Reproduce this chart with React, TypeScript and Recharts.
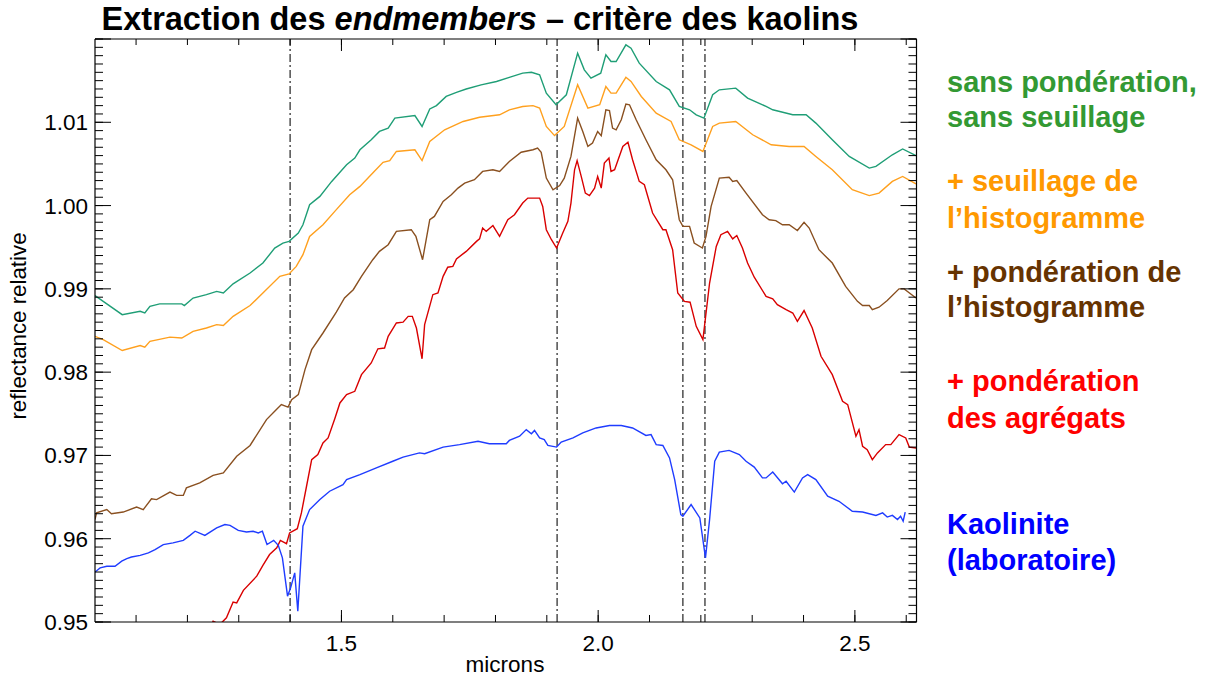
import React from 'react';
import { LineChart, Line, XAxis, YAxis, ReferenceLine } from 'recharts';

// [microns, reflectance relative]
const sansPonderation: [number, number][] = [
  [1.020, 0.9892], [1.073, 0.9869], [1.108, 0.9873], [1.117, 0.9871], [1.127, 0.9879], [1.146, 0.9882],
  [1.189, 0.9882], [1.194, 0.9880], [1.211, 0.9889], [1.237, 0.9893], [1.257, 0.9897], [1.270, 0.9895],
  [1.289, 0.9906], [1.322, 0.9919], [1.347, 0.9931], [1.370, 0.9949], [1.386, 0.9955], [1.398, 0.9957],
  [1.416, 0.9967], [1.425, 0.9977], [1.438, 1.0001], [1.458, 1.0011], [1.481, 1.0029], [1.510, 1.0049],
  [1.526, 1.0057], [1.536, 1.0067], [1.558, 1.0079], [1.574, 1.0089], [1.591, 1.0093], [1.604, 1.0105],
  [1.643, 1.0108], [1.657, 1.0095], [1.672, 1.0116], [1.685, 1.0120], [1.704, 1.0131], [1.724, 1.0136],
  [1.743, 1.0140], [1.772, 1.0145], [1.802, 1.0149], [1.827, 1.0154], [1.853, 1.0159], [1.870, 1.0160],
  [1.886, 1.0157], [1.899, 1.0135], [1.918, 1.0121], [1.938, 1.0133], [1.960, 1.0183], [1.973, 1.0163],
  [1.986, 1.0153], [2.005, 1.0159], [2.015, 1.0181], [2.025, 1.0173], [2.035, 1.0173], [2.054, 1.0193],
  [2.064, 1.0189], [2.080, 1.0171], [2.113, 1.0149], [2.139, 1.0139], [2.158, 1.0119], [2.178, 1.0115],
  [2.191, 1.0109], [2.206, 1.0105], [2.223, 1.0133], [2.236, 1.0139], [2.268, 1.0141], [2.291, 1.0129],
  [2.327, 1.0119], [2.340, 1.0115], [2.379, 1.0109], [2.405, 1.0109], [2.424, 1.0099], [2.456, 1.0079],
  [2.489, 1.0059], [2.528, 1.0045], [2.541, 1.0047], [2.573, 1.0061], [2.593, 1.0068], [2.619, 1.0060],
];

const seuillage: [number, number][] = [
  [1.020, 0.9843], [1.036, 0.9839], [1.073, 0.9826], [1.108, 0.9832], [1.117, 0.9830], [1.127, 0.9837],
  [1.166, 0.9842], [1.189, 0.9841], [1.211, 0.9849], [1.237, 0.9853], [1.257, 0.9857], [1.270, 0.9856],
  [1.289, 0.9867], [1.322, 0.9880], [1.347, 0.9895], [1.380, 0.9915], [1.398, 0.9918], [1.412, 0.9927],
  [1.425, 0.9941], [1.438, 0.9963], [1.464, 0.9977], [1.487, 0.9993], [1.516, 1.0013], [1.536, 1.0023],
  [1.561, 1.0039], [1.581, 1.0052], [1.594, 1.0054], [1.607, 1.0065], [1.643, 1.0067], [1.657, 1.0054],
  [1.672, 1.0077], [1.701, 1.0091], [1.737, 1.0101], [1.769, 1.0106], [1.808, 1.0109], [1.827, 1.0115],
  [1.853, 1.0119], [1.873, 1.0120], [1.886, 1.0117], [1.899, 1.0095], [1.915, 1.0084], [1.934, 1.0095],
  [1.960, 1.0145], [1.980, 1.0117], [2.003, 1.0121], [2.015, 1.0143], [2.025, 1.0135], [2.035, 1.0135],
  [2.054, 1.0154], [2.064, 1.0149], [2.084, 1.0131], [2.113, 1.0111], [2.142, 1.0101], [2.158, 1.0079],
  [2.181, 1.0073], [2.204, 1.0065], [2.223, 1.0095], [2.236, 1.0099], [2.268, 1.0101], [2.301, 1.0085],
  [2.337, 1.0073], [2.372, 1.0071], [2.401, 1.0071], [2.424, 1.0059], [2.456, 1.0043], [2.495, 1.0019],
  [2.528, 1.0012], [2.547, 1.0015], [2.573, 1.0029], [2.593, 1.0035], [2.619, 1.0026],
];

const ponderationHisto: [number, number][] = [
  [1.020, 0.9623], [1.023, 0.9631], [1.043, 0.9635], [1.052, 0.9630], [1.075, 0.9632], [1.101, 0.9638],
  [1.114, 0.9635], [1.130, 0.9648], [1.140, 0.9647], [1.166, 0.9656], [1.179, 0.9652], [1.192, 0.9652],
  [1.198, 0.9661], [1.224, 0.9667], [1.250, 0.9676], [1.270, 0.9679], [1.296, 0.9699], [1.322, 0.9712],
  [1.354, 0.9743], [1.370, 0.9753], [1.383, 0.9761], [1.396, 0.9758], [1.403, 0.9767], [1.416, 0.9773],
  [1.429, 0.9803], [1.442, 0.9827], [1.464, 0.9847], [1.490, 0.9872], [1.506, 0.9889], [1.523, 0.9899],
  [1.539, 0.9915], [1.561, 0.9935], [1.574, 0.9945], [1.591, 0.9953], [1.607, 0.9969], [1.636, 0.9971],
  [1.645, 0.9963], [1.658, 0.9935], [1.672, 0.9983], [1.681, 0.9987], [1.698, 1.0005], [1.714, 1.0013],
  [1.727, 1.0021], [1.740, 1.0027], [1.759, 1.0031], [1.775, 1.0041], [1.795, 1.0043], [1.808, 1.0041],
  [1.827, 1.0053], [1.850, 1.0064], [1.873, 1.0067], [1.882, 1.0069], [1.889, 1.0064], [1.899, 1.0033],
  [1.912, 1.0019], [1.925, 1.0024], [1.934, 1.0033], [1.947, 1.0059], [1.960, 1.0105], [1.970, 1.0089],
  [1.980, 1.0071], [1.989, 1.0075], [1.999, 1.0089], [2.006, 1.0084], [2.015, 1.0115], [2.022, 1.0114],
  [2.028, 1.0093], [2.035, 1.0091], [2.045, 1.0103], [2.054, 1.0122], [2.061, 1.0121], [2.074, 1.0103],
  [2.093, 1.0079], [2.113, 1.0055], [2.132, 1.0043], [2.145, 1.0031], [2.158, 0.9983], [2.165, 0.9975],
  [2.178, 0.9975], [2.187, 0.9955], [2.203, 0.9949], [2.210, 0.9963], [2.220, 0.9999], [2.236, 1.0033],
  [2.255, 1.0034], [2.262, 1.0029], [2.270, 1.0030], [2.288, 1.0015], [2.320, 0.9989], [2.333, 0.9983],
  [2.346, 0.9982], [2.359, 0.9977], [2.372, 0.9977], [2.388, 0.9970], [2.401, 0.9980], [2.411, 0.9973],
  [2.430, 0.9947], [2.456, 0.9931], [2.482, 0.9903], [2.505, 0.9885], [2.515, 0.9880], [2.528, 0.9880],
  [2.534, 0.9875], [2.547, 0.9878], [2.563, 0.9886], [2.586, 0.9900], [2.596, 0.9900], [2.619, 0.9889],
];

const ponderationAgregats: [number, number][] = [
  [1.245, 0.9494], [1.250, 0.9501], [1.263, 0.9497], [1.276, 0.9505], [1.289, 0.9524], [1.296, 0.9523],
  [1.309, 0.9538], [1.335, 0.9555], [1.347, 0.9568], [1.360, 0.9581], [1.374, 0.9589], [1.381, 0.9598],
  [1.393, 0.9594], [1.399, 0.9607], [1.414, 0.9612], [1.422, 0.9631], [1.432, 0.9663], [1.442, 0.9695],
  [1.454, 0.9701], [1.464, 0.9715], [1.474, 0.9721], [1.487, 0.9744], [1.497, 0.9763], [1.510, 0.9773],
  [1.526, 0.9777], [1.539, 0.9797], [1.558, 0.9811], [1.571, 0.9828], [1.584, 0.9829], [1.591, 0.9843],
  [1.607, 0.9859], [1.620, 0.9860], [1.630, 0.9867], [1.638, 0.9867], [1.646, 0.9853], [1.657, 0.9816],
  [1.662, 0.9857], [1.678, 0.9893], [1.688, 0.9895], [1.698, 0.9915], [1.707, 0.9926], [1.717, 0.9927],
  [1.724, 0.9936], [1.743, 0.9945], [1.763, 0.9957], [1.769, 0.9960], [1.775, 0.9973], [1.782, 0.9969],
  [1.795, 0.9976], [1.808, 0.9963], [1.824, 0.9983], [1.837, 0.9989], [1.853, 1.0003], [1.863, 1.0009],
  [1.886, 1.0009], [1.892, 0.9999], [1.899, 0.9971], [1.909, 0.9959], [1.919, 0.9949], [1.931, 0.9967],
  [1.941, 0.9981], [1.947, 1.0003], [1.954, 1.0043], [1.959, 1.0054], [1.967, 1.0035], [1.975, 1.0015],
  [1.983, 1.0012], [1.993, 1.0021], [1.999, 1.0035], [2.006, 1.0021], [2.012, 1.0051], [2.021, 1.0057],
  [2.025, 1.0041], [2.032, 1.0043], [2.048, 1.0071], [2.058, 1.0076], [2.067, 1.0055], [2.080, 1.0029],
  [2.090, 1.0025], [2.106, 0.9991], [2.126, 0.9971], [2.132, 0.9971], [2.145, 0.9947], [2.155, 0.9895],
  [2.168, 0.9885], [2.179, 0.9884], [2.191, 0.9855], [2.204, 0.9839], [2.217, 0.9907], [2.230, 0.9951],
  [2.239, 0.9965], [2.252, 0.9969], [2.262, 0.9960], [2.270, 0.9964], [2.281, 0.9949], [2.291, 0.9931],
  [2.304, 0.9914], [2.327, 0.9891], [2.340, 0.9888], [2.349, 0.9881], [2.366, 0.9875], [2.379, 0.9871],
  [2.388, 0.9861], [2.401, 0.9874], [2.417, 0.9853], [2.434, 0.9819], [2.456, 0.9797], [2.476, 0.9765],
  [2.486, 0.9761], [2.502, 0.9723], [2.508, 0.9731], [2.515, 0.9711], [2.524, 0.9707], [2.534, 0.9695],
  [2.544, 0.9703], [2.560, 0.9713], [2.570, 0.9713], [2.586, 0.9725], [2.599, 0.9721], [2.606, 0.9710],
  [2.619, 0.9709],
];

const kaolinite: [number, number][] = [
  [1.020, 0.9560], [1.030, 0.9565], [1.043, 0.9567], [1.059, 0.9567], [1.072, 0.9573], [1.082, 0.9576],
  [1.091, 0.9578], [1.108, 0.9580], [1.124, 0.9583], [1.137, 0.9587], [1.153, 0.9593], [1.172, 0.9595],
  [1.192, 0.9598], [1.205, 0.9604], [1.215, 0.9609], [1.234, 0.9604], [1.257, 0.9613], [1.273, 0.9617],
  [1.283, 0.9616], [1.299, 0.9610], [1.315, 0.9608], [1.328, 0.9609], [1.338, 0.9607], [1.346, 0.9609],
  [1.355, 0.9593], [1.368, 0.9598], [1.377, 0.9592], [1.385, 0.9577], [1.395, 0.9531], [1.401, 0.9541],
  [1.409, 0.9559], [1.415, 0.9513], [1.425, 0.9615], [1.438, 0.9635], [1.458, 0.9647], [1.477, 0.9657],
  [1.503, 0.9665], [1.510, 0.9671], [1.536, 0.9677], [1.568, 0.9685], [1.600, 0.9693], [1.620, 0.9698],
  [1.652, 0.9703], [1.662, 0.9702], [1.698, 0.9710], [1.730, 0.9713], [1.766, 0.9717], [1.788, 0.9714],
  [1.821, 0.9714], [1.827, 0.9718], [1.847, 0.9723], [1.860, 0.9731], [1.870, 0.9726], [1.876, 0.9730],
  [1.886, 0.9721], [1.895, 0.9719], [1.902, 0.9712], [1.919, 0.9710], [1.928, 0.9716], [1.951, 0.9721],
  [1.970, 0.9727], [1.996, 0.9733], [2.022, 0.9736], [2.045, 0.9736], [2.067, 0.9733], [2.093, 0.9724],
  [2.103, 0.9725], [2.113, 0.9713], [2.126, 0.9712], [2.139, 0.9697], [2.149, 0.9671], [2.161, 0.9629],
  [2.165, 0.9627], [2.181, 0.9641], [2.198, 0.9625], [2.209, 0.9577], [2.217, 0.9623], [2.227, 0.9693],
  [2.236, 0.9704], [2.255, 0.9706], [2.275, 0.9701], [2.288, 0.9693], [2.304, 0.9686], [2.320, 0.9673],
  [2.327, 0.9673], [2.340, 0.9680], [2.359, 0.9666], [2.366, 0.9669], [2.382, 0.9656], [2.398, 0.9673],
  [2.408, 0.9677], [2.424, 0.9671], [2.447, 0.9651], [2.469, 0.9645], [2.495, 0.9633], [2.515, 0.9632],
  [2.541, 0.9628], [2.554, 0.9631], [2.563, 0.9626], [2.573, 0.9628], [2.583, 0.9623], [2.589, 0.9627],
  [2.594, 0.9621], [2.598, 0.9632],
];

// bandes d'absorption (lignes tiret-point)
const absorptionBands = [1.40, 1.92, 2.165, 2.208];

const xLabelTicks = [1.5, 2.0, 2.5];
const yLabelTicks = [0.95, 0.96, 0.97, 0.98, 0.99, 1.0, 1.01];

const xDomain: [number, number] = [1.02, 2.62];
const yDomain: [number, number] = [0.95, 1.02];
const xMinorTicks = Array.from({ length: 16 }, (_, i) => +(1.1 + i * 0.1).toFixed(1));
const yMajorTicks = [...yLabelTicks, 1.02];
const yMinorTicks = Array.from({ length: 71 }, (_, i) => +(0.95 + i * 0.001).toFixed(3));

const FONT = '"Liberation Sans", Arial, Helvetica, sans-serif';
const tickStyle = { fill: '#000', fontSize: 22.5, fontFamily: FONT };
const tickLine = { stroke: '#000', strokeWidth: 1 };
const noLabel = () => '';
const THIN = 0.01; // épaisseur quasi nulle pour les axes miroir (graduations internes)

const toPoints = (pts: [number, number][]) => pts.map(([x, v]) => ({ x, v }));

const legend = [
  { lines: ['sans pondération,', 'sans seuillage'], color: '#339933', baselines: [92, 127] },
  { lines: ['+ seuillage de', 'l\u2019histogramme'], color: '#ff9900', baselines: [191, 228] },
  { lines: ['+ pondération de', 'l\u2019histogramme'], color: '#663300', baselines: [282, 317] },
  { lines: ['+ pondération', 'des agrégats'], color: '#ff0000', baselines: [391, 428] },
  { lines: ['Kaolinite', '(laboratoire)'], color: '#0000ff', baselines: [534, 570] },
];

const series = [
  { key: 'green', data: sansPonderation, color: '#1f9e76' },
  { key: 'orange', data: seuillage, color: '#ffa01e' },
  { key: 'brown', data: ponderationHisto, color: '#8a5020' },
  { key: 'red', data: ponderationAgregats, color: '#d90000' },
  { key: 'blue', data: kaolinite, color: '#1f3cff' },
];

export default function App() {
  return (
    <div style={{ position: 'absolute', left: 0, top: 0, width: 1211, height: 683, background: '#fff', fontFamily: FONT }}>
      <div
        style={{
          position: 'absolute', left: 480, top: 3, transform: 'translateX(-50%)',
          fontSize: 32.5, fontWeight: 'bold', lineHeight: '32px', whiteSpace: 'nowrap', color: '#000',
        }}
      >
        Extraction des <i>endmembers</i> – critère des kaolins
      </div>

      <LineChart width={1211} height={683} margin={{ top: 39, right: 294.5, bottom: 0, left: 0 }}>
        {/* axes avec étiquettes */}
        <XAxis
          type="number" dataKey="x" domain={xDomain} allowDataOverflow ticks={xLabelTicks} interval={0}
          tickFormatter={(v: number) => v.toFixed(1)} tick={tickStyle} tickLine={false} tickSize={0} tickMargin={13}
          height={61} axisLine={{ stroke: '#000', strokeWidth: 1.2 }}
        />
        <YAxis
          type="number" domain={yDomain} allowDataOverflow ticks={yLabelTicks} interval={0}
          tickFormatter={(v: number) => v.toFixed(2)} tick={tickStyle} tickLine={false} tickSize={0} tickMargin={7}
          width={95} axisLine={{ stroke: '#000', strokeWidth: 1.2 }}
        />
        {/* graduations internes */}
        <XAxis xAxisId="bMin" type="number" dataKey="x" domain={xDomain} allowDataOverflow orientation="bottom" mirror height={THIN}
          ticks={xMinorTicks} interval={0} tick={tickStyle} tickFormatter={noLabel} tickSize={7} tickLine={tickLine} axisLine={false} />
        <XAxis xAxisId="bMaj" type="number" dataKey="x" domain={xDomain} allowDataOverflow orientation="bottom" mirror height={THIN}
          ticks={xLabelTicks} interval={0} tick={tickStyle} tickFormatter={noLabel} tickSize={12} tickLine={tickLine} axisLine={false} />
        <XAxis xAxisId="tMin" type="number" dataKey="x" domain={xDomain} allowDataOverflow orientation="top" mirror height={THIN}
          ticks={xMinorTicks} interval={0} tick={tickStyle} tickFormatter={noLabel} tickSize={6} tickLine={tickLine} axisLine={false} />
        <XAxis xAxisId="tMaj" type="number" dataKey="x" domain={xDomain} allowDataOverflow orientation="top" mirror height={THIN}
          ticks={xLabelTicks} interval={0} tick={tickStyle} tickFormatter={noLabel} tickSize={12} tickLine={tickLine}
          axisLine={{ stroke: '#000', strokeWidth: 1.2 }} />
        <YAxis yAxisId="lMin" type="number" domain={yDomain} allowDataOverflow orientation="left" mirror width={THIN}
          ticks={yMinorTicks} interval={0} tick={tickStyle} tickFormatter={noLabel} tickSize={8} tickLine={tickLine} axisLine={false} />
        <YAxis yAxisId="lMaj" type="number" domain={yDomain} allowDataOverflow orientation="left" mirror width={THIN}
          ticks={yMajorTicks} interval={0} tick={tickStyle} tickFormatter={noLabel} tickSize={16} tickLine={tickLine} axisLine={false} />
        <YAxis yAxisId="rMin" type="number" domain={yDomain} allowDataOverflow orientation="right" mirror width={THIN}
          ticks={yMinorTicks} interval={0} tick={tickStyle} tickFormatter={noLabel} tickSize={8} tickLine={tickLine} axisLine={false} />
        <YAxis yAxisId="rMaj" type="number" domain={yDomain} allowDataOverflow orientation="right" mirror width={THIN}
          ticks={yMajorTicks} interval={0} tick={tickStyle} tickFormatter={noLabel} tickSize={16} tickLine={tickLine}
          axisLine={{ stroke: '#000', strokeWidth: 1.2 }} />

        {absorptionBands.map((b) => (
          <ReferenceLine key={b} x={b} stroke="#222" strokeWidth={1.2} strokeDasharray="8 3 2 3" />
        ))}

        {series.map((s) => (
          <Line
            key={s.key} data={toPoints(s.data)} dataKey="v" type="linear" stroke={s.color}
            strokeWidth={1.4} dot={false} activeDot={false} isAnimationActive={false}
          />
        ))}
      </LineChart>

      <div
        style={{
          position: 'absolute', left: 19, top: 326, transform: 'translate(-50%, -50%) rotate(-90deg)',
          fontSize: 22.3, lineHeight: '24px', whiteSpace: 'nowrap', color: '#000',
        }}
      >
        reflectance relative
      </div>
      <div
        style={{
          position: 'absolute', left: 505, top: 653, transform: 'translateX(-50%)',
          fontSize: 22.5, lineHeight: '24px', whiteSpace: 'nowrap', color: '#000',
        }}
      >
        microns
      </div>

      {legend.map((g) =>
        g.lines.map((t, i) => (
          <div
            key={g.color + i}
            style={{
              position: 'absolute', left: 947, top: g.baselines[i] - 28, fontSize: 29, lineHeight: '36px',
              fontWeight: 'bold', color: g.color, whiteSpace: 'nowrap',
            }}
          >
            {t}
          </div>
        ))
      )}
    </div>
  );
}
